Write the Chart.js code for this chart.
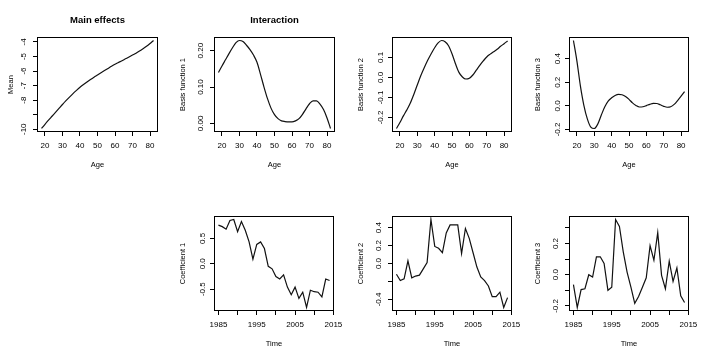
<!DOCTYPE html>
<html>
<head>
<meta charset="utf-8">
<script src="https://cdn.jsdelivr.net/npm/chart.js@4/dist/chart.umd.min.js"></script>
<style>
  html, body { margin: 0; padding: 0; background: #fff; }
  #page { position: relative; width: 709px; height: 358px; overflow: hidden; background: #fff; }
  #page canvas { position: absolute; }
</style>
</head>
<body>
<div id="page"></div>
<script>
/* Main effects + interaction panels (R base-graphics look) */
var ages = [18,20,22,24,26,28,30,32,34,36,38,40,42,44,46,48,50,52,54,56,58,60,62,64,66,68,70,72,74,76,78,80,82];
var meanByAge = [-9.95,-9.66,-9.38,-9.11,-8.84,-8.57,-8.3,-8.04,-7.79,-7.55,-7.33,-7.12,-6.93,-6.75,-6.58,-6.42,-6.27,-6.12,-5.97,-5.82,-5.67,-5.53,-5.41,-5.29,-5.16,-5.03,-4.9,-4.77,-4.62,-4.46,-4.29,-4.1,-3.9];
var basis1 = [0.140,0.158,0.175,0.192,0.208,0.222,0.228,0.225,0.215,0.203,0.188,0.168,0.135,0.100,0.068,0.042,0.024,0.013,0.007,0.005,0.004,0.004,0.007,0.013,0.025,0.040,0.054,0.062,0.062,0.053,0.038,0.015,-0.014];
var basis2 = [-0.255,-0.225,-0.192,-0.162,-0.128,-0.085,-0.038,0.008,0.048,0.085,0.118,0.148,0.172,0.184,0.178,0.158,0.118,0.068,0.025,0.002,-0.008,-0.004,0.012,0.036,0.060,0.082,0.102,0.116,0.128,0.140,0.155,0.168,0.182];
var basis3 = [0.554,0.380,0.170,0.005,-0.110,-0.180,-0.192,-0.155,-0.080,-0.010,0.040,0.068,0.088,0.097,0.094,0.080,0.055,0.025,0.003,-0.010,-0.008,0.002,0.013,0.021,0.020,0.009,-0.004,-0.012,-0.008,0.012,0.045,0.082,0.120];

var years = [1985,1986,1987,1988,1989,1990,1991,1992,1993,1994,1995,1996,1997,1998,1999,2000,2001,2002,2003,2004,2005,2006,2007,2008,2009,2010,2011,2012,2013,2014];
var coef1 = [0.76,0.73,0.68,0.85,0.87,0.63,0.83,0.66,0.43,0.09,0.38,0.43,0.30,-0.05,-0.10,-0.25,-0.30,-0.22,-0.46,-0.61,-0.46,-0.68,-0.56,-0.86,-0.52,-0.55,-0.56,-0.65,-0.30,-0.33];
var coef2 = [-0.12,-0.19,-0.17,0.03,-0.16,-0.14,-0.13,-0.06,0.01,0.49,0.19,0.17,0.12,0.34,0.43,0.43,0.43,0.11,0.39,0.28,0.12,-0.04,-0.15,-0.19,-0.25,-0.37,-0.37,-0.32,-0.49,-0.38];
var coef3 = [-0.063,-0.21,-0.095,-0.09,0.0,-0.015,0.115,0.115,0.072,-0.10,-0.08,0.354,0.31,0.147,0.017,-0.08,-0.183,-0.14,-0.08,-0.02,0.186,0.093,0.27,-0.004,-0.09,0.087,-0.043,0.043,-0.135,-0.178];

var ageTicks = [20,30,40,50,60,70,80];
var ageTickLabels = ['20','30','40','50','60','70','80'];
var yearTicks = [1985,1990,1995,2000,2005,2010,2015];
var yearTickLabels = ['1985','','1995','','2005','','2015'];
var meanTicks = [-10,-9,-8,-7,-6,-5,-4];
var meanTickLabels = ['-10','','-8','-7','-6','-5','-4'];
var basis1Ticks = [0,0.1,0.2];
var basis1TickLabels = ['0.00','0.10','0.20'];
var basis2Ticks = [-0.2,-0.1,0,0.1];
var basis2TickLabels = ['-0.2','-0.1','0.0','0.1'];
var basis3Ticks = [-0.2,0,0.2,0.4];
var basis3TickLabels = ['-0.2','0.0','0.2','0.4'];
var coef1Ticks = [-0.5,0,0.5];
var coef1TickLabels = ['-0.5','0.0','0.5'];
var coef2Ticks = [-0.4,-0.2,0,0.2,0.4];
var coef2TickLabels = ['-0.4','','0.0','0.2','0.4'];
var coef3Ticks = [-0.2,-0.1,0,0.1,0.2,0.3];
var coef3TickLabels = ['-0.2','','0.0','','0.2',''];

var FONT = "'Liberation Sans', Arial, Helvetica, sans-serif";
var AXIS_W = 36, AXIS_H = 42, PAD_R = 14, PAD_T = 6;

// R extends the data range by 4% on each side
function rRange(v) {
    var lo = Math.min.apply(null, v), hi = Math.max.apply(null, v), d = (hi - lo) * 0.04;
    return { min: lo - d, max: hi + d };
}

var boxPlugin = {
    id: 'rbox',
    afterDraw: function(chart) {
        var a = chart.chartArea, ctx = chart.ctx;
        ctx.save();
        ctx.strokeStyle = '#000';
        ctx.lineWidth = 1;
        ctx.strokeRect(Math.round(a.left) + 0.5, Math.round(a.top) + 0.5, Math.round(a.right - a.left) - 1, Math.round(a.bottom - a.top) - 1);
        ctx.restore();
    }
};

var panels = [
    { title: 'Main effects', box: {l: 37, r: 158, t: 37, b: 132}, x: ages, y: meanByAge, smooth: true,
      xTicks: ageTicks, xLabels: ageTickLabels, xTitle: 'Age', yTicks: meanTicks, yLabels: meanTickLabels, yTitle: 'Mean', yPad: 3.5, yTitlePad: 5 },
    { title: 'Interaction', box: {l: 214, r: 335, t: 37, b: 132}, x: ages, y: basis1, smooth: true,
      xTicks: ageTicks, xLabels: ageTickLabels, xTitle: 'Age', yTicks: basis1Ticks, yLabels: basis1TickLabels, yTitle: 'Basis function 1', yPad: 1.5, yTitlePad: 0.5 },
    { box: {l: 392, r: 512, t: 37, b: 132}, x: ages, y: basis2, smooth: true,
      xTicks: ageTicks, xLabels: ageTickLabels, xTitle: 'Age', yTicks: basis2Ticks, yLabels: basis2TickLabels, yTitle: 'Basis function 2', yPad: 0, yTitlePad: 0.5 },
    { box: {l: 569, r: 689, t: 37, b: 132}, x: ages, y: basis3, smooth: true,
      xTicks: ageTicks, xLabels: ageTickLabels, xTitle: 'Age', yTicks: basis3Ticks, yLabels: basis3TickLabels, yTitle: 'Basis function 3', yPad: 0.2, yTitlePad: 0 },
    { box: {l: 214, r: 334, t: 216, b: 311}, x: years, y: coef1, smooth: false,
      xTicks: yearTicks, xLabels: yearTickLabels, xTitle: 'Time', yTicks: coef1Ticks, yLabels: coef1TickLabels, yTitle: 'Coefficient 1', yPad: 0.8, yTitlePad: 0.5 },
    { box: {l: 392, r: 512, t: 216, b: 311}, x: years, y: coef2, smooth: false,
      xTicks: yearTicks, xLabels: yearTickLabels, xTitle: 'Time', yTicks: coef2Ticks, yLabels: coef2TickLabels, yTitle: 'Coefficient 2', yPad: 2.4, yTitlePad: 0 },
    { box: {l: 569, r: 689, t: 216, b: 311}, x: years, y: coef3, smooth: false,
      xTicks: yearTicks, xLabels: yearTickLabels, xTitle: 'Time', yTicks: coef3Ticks, yLabels: coef3TickLabels, yTitle: 'Coefficient 3', yPad: 2.4, yTitlePad: 0 }
];

var page = document.getElementById('page');

panels.forEach(function(p) {
    var hasTitle = !!p.title;
    var top = hasTitle ? 0 : p.box.t - PAD_T;
    var canvas = document.createElement('canvas');
    canvas.width = AXIS_W + (p.box.r - p.box.l) + PAD_R;
    canvas.height = (p.box.t - top) + (p.box.b - p.box.t) + AXIS_H;
    canvas.style.left = (p.box.l - AXIS_W) + 'px';
    canvas.style.top = top + 'px';
    page.appendChild(canvas);

    var xr = rRange(p.x), yr = rRange(p.y);
    var tickFont = { family: FONT, size: 8 };
    var labFont = { family: FONT, size: 7.5 };

    new Chart(canvas.getContext('2d'), {
        type: 'line',
        data: {
            datasets: [{
                data: p.x.map(function(v, i) { return { x: v, y: p.y[i] }; }),
                borderColor: '#111', borderWidth: 1.2, pointRadius: 0, fill: false,
                tension: p.smooth ? 0.4 : 0, cubicInterpolationMode: p.smooth ? 'monotone' : 'default'
            }]
        },
        options: {
            responsive: false, animation: false, devicePixelRatio: 1,
            layout: { padding: { top: hasTitle ? 0 : PAD_T, left: 0, right: PAD_R, bottom: 0 } },
            plugins: {
                legend: { display: false }, tooltip: { enabled: false },
                title: { display: hasTitle, text: p.title || '', fullSize: false, color: '#000',
                         font: { family: FONT, size: 9.5, weight: 'bold', lineHeight: 1.2 },
                         padding: { top: 14.3, bottom: p.box.t - 14.3 - 11.4 } }
            },
            scales: {
                x: {
                    type: 'linear', bounds: 'data', min: xr.min, max: xr.max,
                    afterBuildTicks: function(s) { s.ticks = p.xTicks.map(function(v) { return { value: v }; }); },
                    afterFit: function(s) { s.height = AXIS_H; s.paddingLeft = 0; s.paddingRight = 0; },
                    grid: { drawOnChartArea: false, drawTicks: true, tickLength: 4, color: '#000', lineWidth: 1 },
                    border: { display: false },
                    ticks: { autoSkip: false, minRotation: 0, maxRotation: 0, padding: 5, color: '#000', font: tickFont,
                             callback: function(v, i) { return p.xLabels[i]; } },
                    title: { display: true, text: p.xTitle, color: '#000', font: labFont, padding: { top: 0, bottom: 4.5 } }
                },
                y: {
                    type: 'linear', bounds: 'data', min: yr.min, max: yr.max,
                    afterBuildTicks: function(s) { s.ticks = p.yTicks.map(function(v) { return { value: v }; }); },
                    afterFit: function(s) { s.width = AXIS_W; s.paddingTop = 0; s.paddingBottom = 0; },
                    grid: { drawOnChartArea: false, drawTicks: true, tickLength: 4, color: '#000', lineWidth: 1 },
                    border: { display: false },
                    ticks: { autoSkip: false, minRotation: 90, maxRotation: 90, crossAlign: 'center', padding: p.yPad,
                             color: '#000', font: tickFont,
                             callback: function(v, i) { return p.yLabels[i]; } },
                    title: { display: true, text: p.yTitle, color: '#000', font: labFont, padding: { top: p.yTitlePad, bottom: 0 } }
                }
            }
        },
        plugins: [boxPlugin]
    });
});
</script>
</body>
</html>
